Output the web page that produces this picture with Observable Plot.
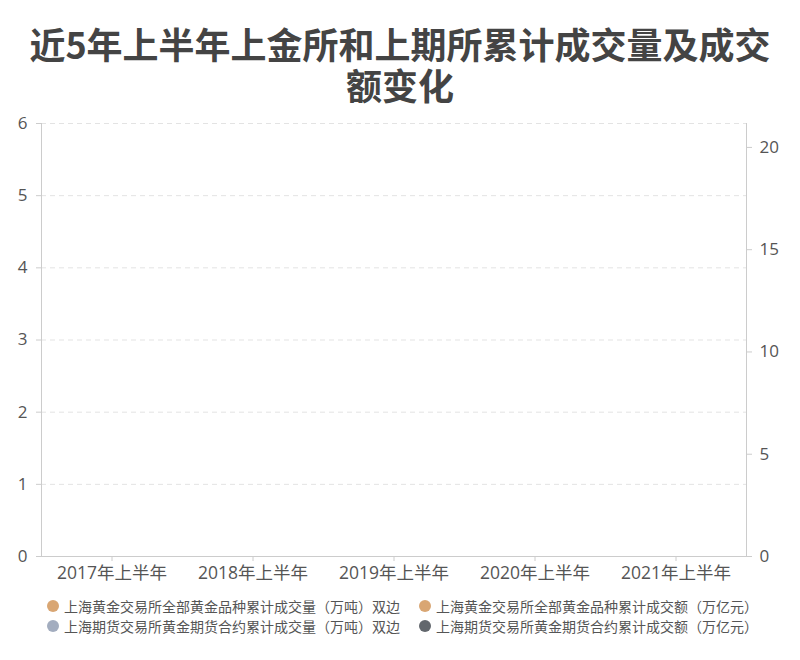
<!DOCTYPE html>
<html>
<head>
<meta charset="utf-8">
<script src="https://cdn.jsdelivr.net/npm/d3@7"></script>
<script src="https://cdn.jsdelivr.net/npm/@observablehq/plot@0.6"></script>
<style>
  html, body { margin: 0; padding: 0; background: #fff; }
  body { width: 800px; font-family: "Noto Sans CJK SC", "Open Sans", sans-serif; }
  #title { text-align: center; font-weight: 700; font-size: 36px; color: #444; padding-top: 23px; height: 87px; box-sizing: content-box; }
  #title div { height: 41px; line-height: 41px; overflow: visible; white-space: nowrap; }
  #chart { height: 480px; }
  #legend { position: relative; height: 50px; font-size: 14px; color: #555; }
  .li { position: absolute; display: flex; align-items: center; white-space: nowrap; }
  .dot { width: 12px; height: 12px; border-radius: 50%; margin-right: 5px; display: inline-block; }
</style>
</head>
<body>
<div id="title"><div>近5年上半年上金所和上期所累计成交量及成交</div><div>额变化</div></div>
<div id="chart"></div>
<div id="legend"></div>
<script>
// Categories, ticks and series
const categories = ["2017年上半年", "2018年上半年", "2019年上半年", "2020年上半年", "2021年上半年"];
const leftTicks = [0, 1, 2, 3, 4, 5, 6];
const rightTicks = [0, 5, 10, 15, 20];
const leftMax = 6;
const rightMax = 21.17;
const seriesNames = [
  "上海黄金交易所全部黄金品种累计成交量（万吨）双边",
  "上海黄金交易所全部黄金品种累计成交额（万亿元）",
  "上海期货交易所黄金期货合约累计成交量（万吨）双边",
  "上海期货交易所黄金期货合约累计成交额（万亿元）"
];
const seriesColors = ["#d9a673", "#d9a673", "#a3adbf", "#62676d"];

const toLeft = v => v * leftMax / rightMax;

const plot = Plot.plot({
  width: 800,
  height: 480,
  marginTop: 13,
  marginBottom: 34,
  marginLeft: 41,
  marginRight: 54,
  style: { fontFamily: "'Open Sans', 'Noto Sans CJK SC', sans-serif", fontSize: "17px", color: "#555", background: "#fff" },
  x: { type: "band", domain: categories, padding: 0 },
  y: { domain: [0, leftMax] },
  marks: [
    Plot.gridY(leftTicks.filter(d => d > 0), { stroke: "#e3e3e3", strokeOpacity: 1, strokeDasharray: "5,4" }),
    Plot.axisX(categories, { tickSize: 5, stroke: "#ccc", tickPadding: 5, fill: "#555", fontSize: 17.5, label: null }),
    Plot.axisY(leftTicks, { anchor: "left", tickSize: 5, stroke: "#ccc", tickPadding: 9, fill: "#555", fontSize: 17, label: null, tickFormat: d => String(d) }),
    Plot.axisY(rightTicks.map(toLeft), { anchor: "right", tickSize: 5, stroke: "#ccc", tickPadding: 8, fill: "#555", fontSize: 17, label: null, tickFormat: (d, i) => String(rightTicks[i]) }),
    Plot.ruleY([0], { stroke: "#ccc" }),
    Plot.frame({ anchor: "left", stroke: "#ccc" }),
    Plot.frame({ anchor: "right", stroke: "#ccc" })
  ]
});
document.getElementById("chart").appendChild(plot);

const legend = document.getElementById("legend");
const pos = [[47, 6], [419, 6], [47, 26], [419, 26]];
seriesNames.forEach((name, i) => {
  const el = document.createElement("div");
  el.className = "li";
  el.style.left = pos[i][0] + "px";
  el.style.top = pos[i][1] + "px";
  el.innerHTML = `<span class="dot" style="background:${seriesColors[i]}"></span><span>${name}</span>`;
  legend.appendChild(el);
});
</script>
</body>
</html>
